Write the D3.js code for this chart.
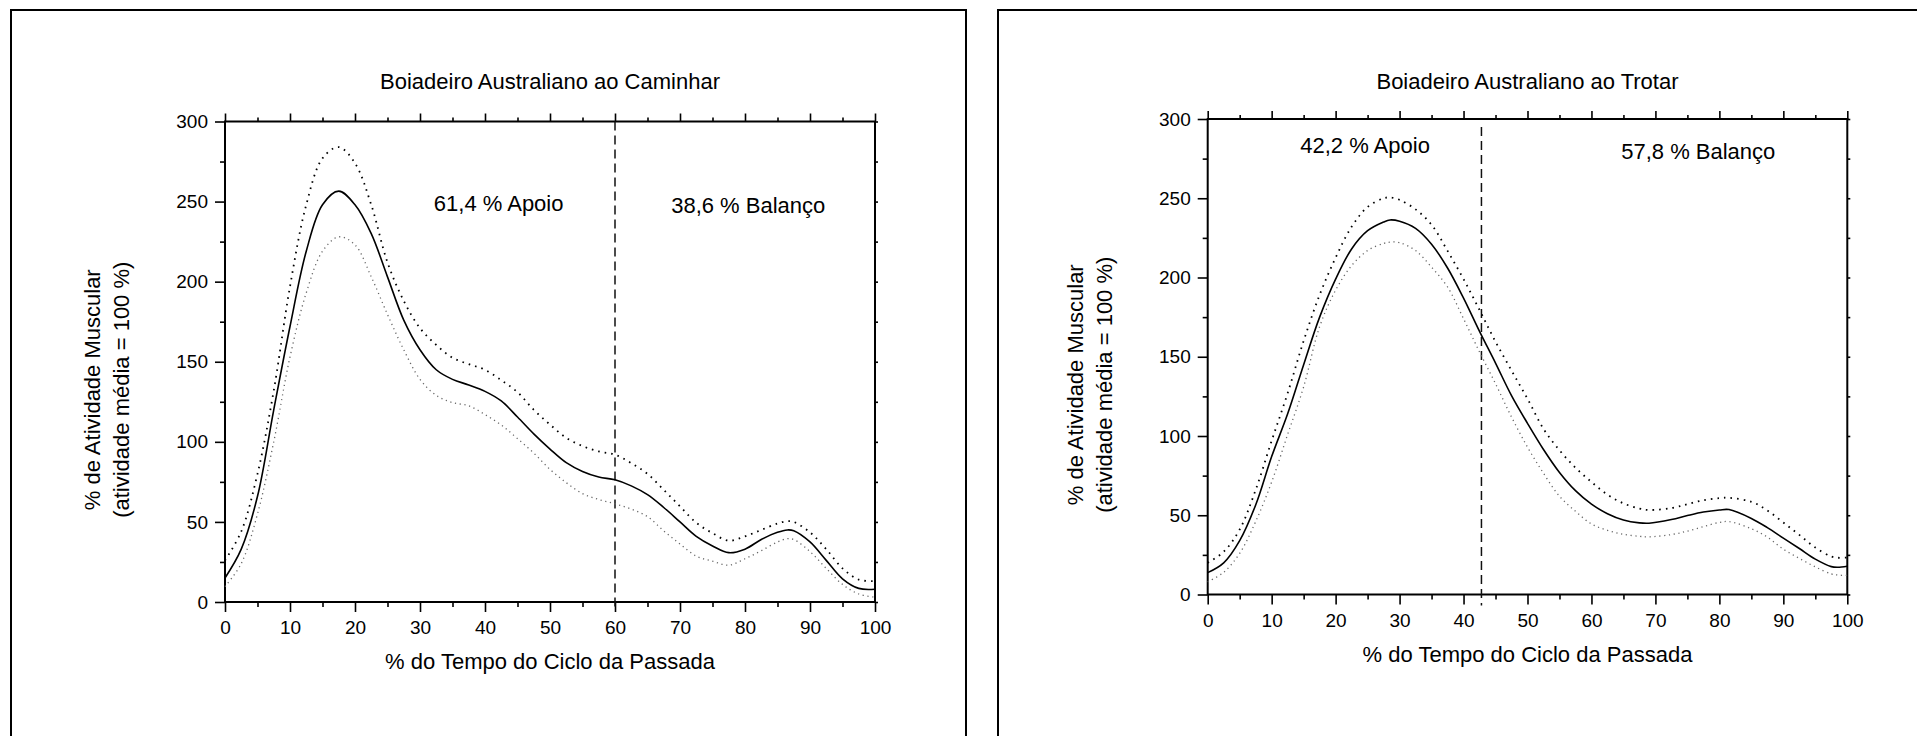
<!DOCTYPE html>
<html lang="pt-BR">
<head>
    <meta charset="UTF-8">
    <title>Boiadeiro Australiano</title>
    <script src="https://d3js.org/d3.v7.min.js"></script>
    <style>
        body { margin: 0; background: #fff; }
        svg { display: block; font-family: "Liberation Sans", Arial, sans-serif; }
        .box { fill: none; stroke: #000; stroke-width: 2; }
        .frame { fill: none; stroke: #000; stroke-width: 2; }
        .domain { display: none; }
        .tick line { stroke: #000; stroke-width: 1.6; }
        .tick text { font-size: 19px; fill: #000; }
        .mean { fill: none; stroke: #000; stroke-width: 1.6; }
        .upper { fill: none; stroke: #000; stroke-width: 1.8; stroke-dasharray: 1.6 5; }
        .lower { fill: none; stroke: #666; stroke-width: 1.3; stroke-dasharray: 1.2 3.6; }
        .phase { stroke: #111; stroke-width: 1.5; stroke-dasharray: 9 5; }
        .label { font-size: 22px; fill: #000; }
    </style>
</head>
<body>
<svg id="chart" width="1917" height="736"></svg>
<script>
    // eixos
    const xTicks = [0, 10, 20, 30, 40, 50, 60, 70, 80, 90, 100];
    const xMinor = [5, 15, 25, 35, 45, 55, 65, 75, 85, 95];
    const yTicks = [0, 50, 100, 150, 200, 250, 300];
    const yMinor = [25, 75, 125, 175, 225, 275];

    // caminhar (walk)
    const walkX = [0, 2.5, 5, 7.5, 10, 12.5, 15, 17.5, 20, 22.5, 25, 27.5, 30, 32.5, 35, 37.5, 40, 42.5, 45, 47.5,
                   50, 52.5, 55, 57.5, 60, 62.5, 65, 67.5, 70, 72.5, 75, 77.5, 80, 82.5, 85, 86.5, 87.5, 90, 92.5, 95, 97.5, 100];
    const walkMean = [15, 33, 66, 120, 172, 219, 248, 256.5, 248, 230, 203, 176, 157.5, 145, 139, 135.5, 131.5, 125.5, 115.5, 105,
                      95.5, 87, 81.5, 78, 76.3, 72.5, 67, 59, 50, 41, 35, 30.8, 33, 39, 43.5, 45, 44.5, 37.5, 26, 14.5, 8.5, 8];
    const walkUpper = [26, 44, 80, 132, 197, 248, 277, 284, 274, 248, 212, 188, 171, 160.5, 152.5, 148.5, 145, 138.5, 131, 120,
                       110.8, 102.5, 97.4, 94, 92, 86.7, 80, 70, 59.7, 49.5, 43, 38.3, 41, 45, 49, 50.5, 50, 43.5, 33, 21, 14, 13];
    const walkLower = [9.6, 24, 55, 100, 153, 193, 219, 228, 223, 203, 179.5, 157.5, 139, 129, 124.5, 122.5, 117, 110.5, 102, 93,
                       82.8, 74.5, 67.7, 64, 61.3, 58, 53.3, 44.4, 36.2, 28.6, 25.5, 23, 27, 32, 37.5, 39.5, 39, 31.5, 21, 11, 5, 3];

    // trotar (trot)
    const trotX = [0, 2.5, 5, 7.5, 10, 12.5, 15, 17.5, 20, 22.5, 25, 27.5, 28.5, 30, 32.5, 35, 37.5, 40, 42.5, 45, 47.5,
                   50, 52.5, 55, 57.5, 60, 62.5, 65, 67.5, 69, 72.5, 75, 77.5, 80, 81.5, 85, 87.5, 90, 92.5, 95, 97.5, 98.5, 100];
    const trotMean = [13.8, 20, 34, 56.5, 87, 114, 145, 175, 199, 218, 229.5, 235, 236.3, 235.5, 231, 221, 206, 187, 166, 146, 125.5,
                      108, 91.5, 77, 65.5, 57, 51, 47, 45.2, 45, 47.3, 49.8, 52, 53.3, 53.6, 48, 42.2, 35.6, 29, 22.3, 17.6, 17.2, 17.8];
    const trotUpper = [20, 27, 41, 66, 97, 127, 160, 189, 212.5, 232, 244.5, 250, 250.5, 249, 243, 233.3, 216.8, 199, 179.5, 159.5, 141.3,
                       123.5, 104.5, 91, 80, 71, 63, 57.5, 54.2, 53.3, 54.5, 57, 59.5, 60.8, 61, 58.5, 53, 45.4, 37.6, 29.6, 24, 23.2, 23.3];
    const trotLower = [8, 14, 26, 46, 71, 101, 131, 169, 192, 207.5, 217, 221.5, 222.3, 222, 217, 206.5, 194, 174, 153, 133, 112,
                       93, 76.5, 62, 52.5, 44.5, 40.5, 38, 36.7, 36.4, 37.8, 40, 42.8, 45.5, 46, 41.5, 36.2, 28.6, 22.8, 17.4, 13, 12.3, 12];

    const svg = d3.select("#chart");

    const panels = [
        {
            box: [11, 10, 955, 780],
            left: 225, right: 875, top: 121.5, bottom: 602,
            title: "Boiadeiro Australiano ao Caminhar",
            xs: walkX, mean: walkMean, upper: walkUpper, lower: walkLower,
            phaseX: 60, phaseTop: 300, phaseBottom: -4.5,
            notes: [
                { text: "61,4 % Apoio", x: 42.1, y: 244 },
                { text: "38,6 % Balanço", x: 80.5, y: 243 }
            ]
        },
        {
            box: [998, 10, 940, 780],
            left: 1207.7, right: 1847.3, top: 119, bottom: 594.5,
            title: "Boiadeiro Australiano ao Trotar",
            xs: trotX, mean: trotMean, upper: trotUpper, lower: trotLower,
            phaseX: 42.8, phaseTop: 295, phaseBottom: -7,
            notes: [
                { text: "42,2 % Apoio", x: 24.6, y: 278.5 },
                { text: "57,8 % Balanço", x: 76.7, y: 275 }
            ]
        }
    ];

    function drawPanel(p) {
        const g = svg.append("g");

        g.append("rect").attr("class", "box")
            .attr("x", p.box[0]).attr("y", p.box[1])
            .attr("width", p.box[2]).attr("height", p.box[3]);

        const x = d3.scaleLinear().domain([0, 100]).range([p.left, p.right]);
        const y = d3.scaleLinear().domain([0, 300]).range([p.bottom, p.top]);

        // bottom
        g.append("g").attr("transform", `translate(0,${p.bottom})`)
            .call(d3.axisBottom(x).tickValues(xTicks).tickSize(10).tickPadding(9).tickSizeOuter(0));
        g.append("g").attr("transform", `translate(0,${p.bottom})`)
            .call(d3.axisBottom(x).tickValues(xMinor).tickSize(5).tickFormat(""));
        // top
        g.append("g").attr("transform", `translate(0,${p.top})`)
            .call(d3.axisTop(x).tickValues(xTicks).tickSize(8).tickFormat(""));
        g.append("g").attr("transform", `translate(0,${p.top})`)
            .call(d3.axisTop(x).tickValues(xMinor).tickSize(4).tickFormat(""));
        // left
        g.append("g").attr("transform", `translate(${p.left},0)`)
            .call(d3.axisLeft(y).tickValues(yTicks).tickSize(10).tickPadding(7).tickSizeOuter(0));
        g.append("g").attr("transform", `translate(${p.left},0)`)
            .call(d3.axisLeft(y).tickValues(yMinor).tickSize(5).tickFormat(""));
        // right
        g.append("g").attr("transform", `translate(${p.right},0)`)
            .call(d3.axisRight(y).tickValues(yTicks.concat(yMinor)).tickSize(3).tickFormat(""));

        g.append("rect").attr("class", "frame")
            .attr("x", x(0)).attr("y", y(300))
            .attr("width", x(100) - x(0)).attr("height", y(0) - y(300));

        g.append("line").attr("class", "phase")
            .attr("x1", x(p.phaseX)).attr("x2", x(p.phaseX))
            .attr("y1", y(p.phaseTop)).attr("y2", y(p.phaseBottom));

        const line = d3.line()
            .x((d, i) => x(p.xs[i]))
            .y(d => y(d))
            .curve(d3.curveCatmullRom.alpha(0.5));

        g.append("path").attr("class", "lower").attr("d", line(p.lower));
        g.append("path").attr("class", "upper").attr("d", line(p.upper));
        g.append("path").attr("class", "mean").attr("d", line(p.mean));

        p.notes.forEach(n => {
            g.append("text").attr("class", "label")
                .attr("x", x(n.x)).attr("y", y(n.y))
                .attr("text-anchor", "middle")
                .text(n.text);
        });

        const cx = (p.left + p.right) / 2;
        g.append("text").attr("class", "label")
            .attr("x", cx).attr("y", 89)
            .attr("text-anchor", "middle")
            .text(p.title);

        g.append("text").attr("class", "label")
            .attr("x", cx).attr("y", p.bottom + 67)
            .attr("text-anchor", "middle")
            .text("% do Tempo do Ciclo da Passada");

        const cy = (p.top + p.bottom) / 2 + 28;
        const yt = g.append("text").attr("class", "label")
            .attr("transform", `translate(${p.left - 125},${cy}) rotate(-90)`)
            .attr("text-anchor", "middle");
        yt.append("tspan").attr("x", 0).attr("y", 0).text("% de Atividade Muscular");
        yt.append("tspan").attr("x", 0).attr("y", 29).text("(atividade média = 100 %)");
    }

    panels.forEach(drawPanel);
</script>
</body>
</html>
